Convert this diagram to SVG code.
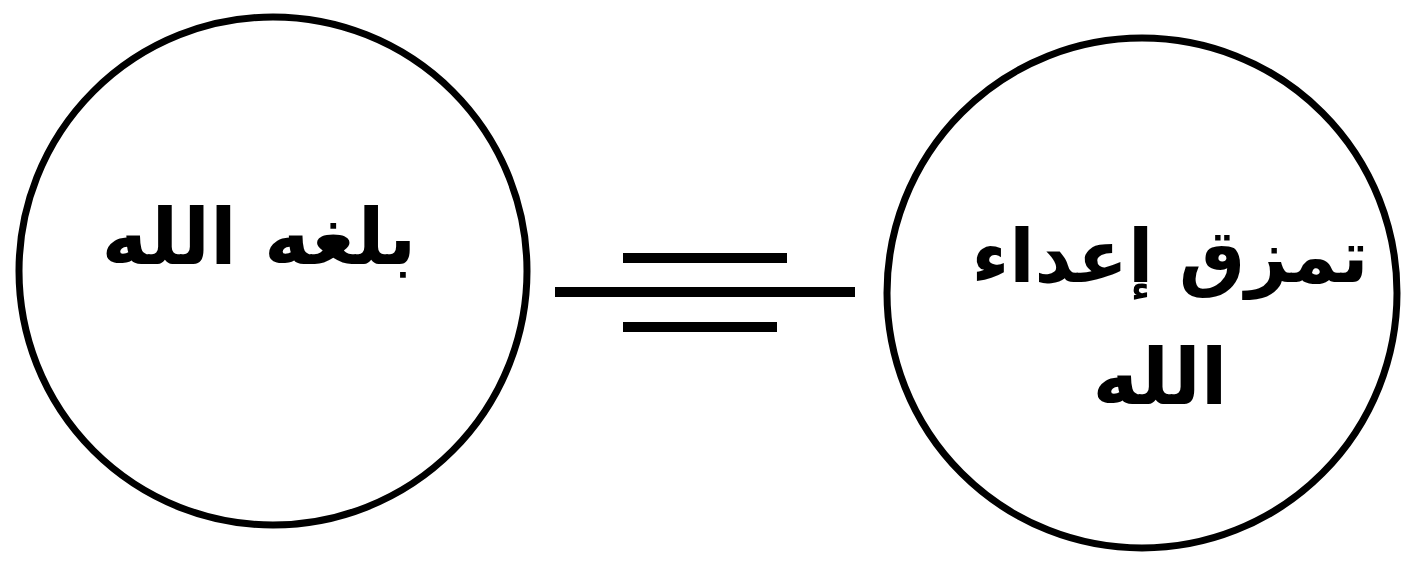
<svg xmlns="http://www.w3.org/2000/svg" width="1409" height="564" viewBox="0 0 1409 564">
<style>
.node{fill:none;stroke:#000;stroke-width:7}
.lbl{font-family:"DejaVu Sans","Noto Sans",sans-serif;fill:#000;text-anchor:middle;direction:rtl;font-weight:bold}
.conn{stroke:#000;stroke-width:10;stroke-linecap:butt}
</style>
<rect width="1409" height="564" fill="#fff"/>
<g id="node-left">
<circle class="node" cx="273" cy="271" r="254"/>
<text class="lbl" x="259" y="264" font-size="78">بلغه الله</text>
</g>
<g id="node-right">
<circle class="node" cx="1142" cy="293" r="255"/>
<text class="lbl" x="1170" y="282" font-size="74">تمزق إعداء</text>
<text class="lbl" x="1160" y="404" font-size="78">الله</text>
</g>
<g id="connectors">
<line class="conn" x1="623" y1="258" x2="787" y2="258"/>
<line class="conn" x1="555" y1="292" x2="855" y2="292"/>
<line class="conn" x1="623" y1="327" x2="777" y2="327"/>
</g>
</svg>
